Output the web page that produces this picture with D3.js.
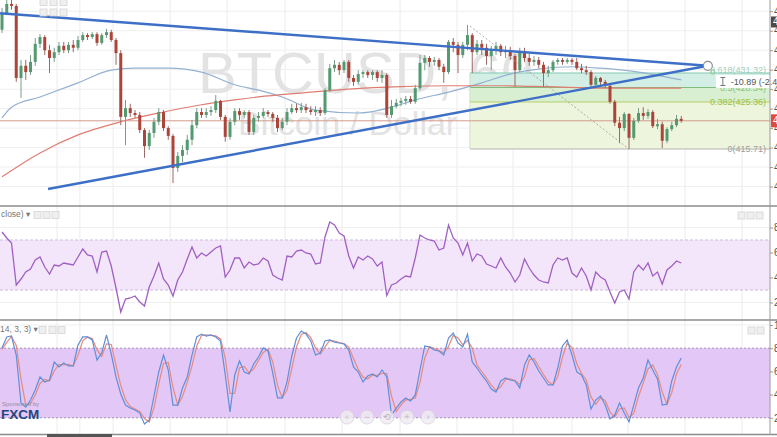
<!DOCTYPE html>
<html><head><meta charset="utf-8">
<script src="https://cdn.jsdelivr.net/npm/d3@7"></script>
<style>html,body{margin:0;padding:0;background:#fff;overflow:hidden}svg{display:block}</style>
</head><body><svg id="c" width="777" height="437"></svg>
<script>
// ---------- DATA ----------
const opens = [440.2,443.6,445.5,445.1,430.3,432.8,431.5,433.6,437.3,438.7,
 436.0,434.4,435.6,436.9,436.0,437.1,436.5,438.1,439.1,438.7,
 439.3,437.5,439.1,439.7,438.1,435.4,422.3,424.1,423.1,422.7,
 419.6,416.3,419.0,421.3,423.3,420.0,418.4,411.8,414.3,415.5,
 417.6,420.6,423.3,422.7,423.3,423.7,425.6,422.3,418.2,421.3,
 423.5,422.7,423.3,419.2,422.1,422.5,423.3,422.9,422.1,420.0,
 421.3,423.3,424.1,423.7,424.3,423.7,423.3,423.7,423.1,427.8,
 432.3,433.0,431.9,433.6,430.3,429.5,431.1,431.5,430.9,431.5,
 430.3,430.9,422.7,424.5,425.2,425.6,426.0,425.4,428.2,433.4,
 434.4,433.6,434.0,432.6,431.5,437.7,437.1,435.0,437.1,439.1,
 435.6,437.3,436.5,434.8,436.0,436.9,435.6,436.0,434.8,431.9,
 435.6,434.4,433.6,434.0,433.0,431.3,431.9,433.6,434.0,433.6,
 434.0,433.6,432.3,431.9,431.5,428.9,430.3,429.5,428.7,425.4,
 421.1,420.0,422.9,418.0,421.5,423.1,422.5,423.3,420.4,420.8,
 417.4,419.8,420.6,421.9];
const highs = [444.7,446.3,446.3,445.5,434.0,434.0,435.0,438.5,439.3,439.1,
 437.1,436.5,437.7,437.7,437.7,438.1,438.9,439.7,439.5,439.7,
 439.7,439.5,440.4,440.2,438.5,436.0,425.8,425.0,423.7,423.3,
 420.0,419.6,422.1,424.1,423.7,420.4,418.8,415.1,416.5,418.6,
 421.7,424.1,424.1,424.1,424.5,426.8,425.8,422.7,422.1,424.1,
 424.1,423.7,423.7,422.7,423.3,424.1,423.7,423.3,422.7,422.1,
 424.1,425.0,425.0,425.2,425.0,424.5,424.5,424.3,428.2,433.2,
 434.0,433.6,434.0,434.0,430.9,431.9,431.9,431.9,431.9,431.9,
 431.9,431.3,425.8,426.0,426.2,426.6,426.6,428.9,435.0,435.0,
 434.8,434.6,434.4,433.2,438.1,438.5,437.7,437.7,441.2,439.5,
 438.1,438.1,437.3,436.9,437.7,437.3,436.9,436.7,435.2,436.5,
 436.5,435.2,434.8,434.6,433.6,432.8,434.0,434.4,434.4,434.4,
 434.4,434.4,433.2,432.8,431.9,430.7,430.5,429.9,429.1,425.8,
 422.3,423.3,423.1,422.1,424.1,424.3,423.9,423.7,421.9,421.3,
 420.2,421.3,422.7,422.5];
const lows = [439.5,443.2,444.3,429.5,426.2,429.9,430.9,432.8,436.5,435.0,
 431.3,433.6,435.0,435.4,435.4,435.6,436.0,437.7,438.1,438.3,
 436.9,437.1,438.5,437.7,433.0,420.6,416.5,422.3,422.1,419.0,
 413.9,415.5,418.0,420.6,419.4,417.6,408.7,411.0,413.0,414.5,
 416.5,420.0,422.1,422.1,422.5,423.1,421.7,417.2,417.6,420.6,
 421.7,422.1,418.6,418.6,421.3,422.1,422.3,421.3,419.2,419.6,
 420.6,422.9,423.1,423.1,423.1,422.7,422.5,422.5,422.7,427.4,
 431.5,430.9,431.3,429.5,428.7,428.9,430.3,430.3,429.9,429.5,
 429.3,422.1,422.1,424.1,424.5,424.8,425.0,425.0,427.8,431.9,
 432.6,432.8,431.9,429.3,431.1,435.6,431.3,434.4,436.0,431.3,
 435.0,435.0,433.0,431.9,435.0,434.8,434.4,434.0,428.5,431.5,
 433.6,432.8,432.8,432.3,428.5,430.5,431.5,433.0,433.0,433.2,
 433.0,431.9,431.3,430.9,428.5,428.7,428.7,428.2,425.0,420.4,
 416.9,419.4,415.7,417.6,421.1,421.7,421.9,420.0,419.8,415.9,
 416.9,419.4,420.2,421.1];
const closes = [443.6,445.5,445.1,430.3,432.8,431.5,433.6,437.3,438.7,436.0,
 434.4,435.6,436.9,436.0,437.1,436.5,438.1,439.1,438.7,439.3,
 437.5,439.1,439.7,438.1,435.4,422.3,424.1,423.1,422.7,419.6,
 416.3,419.0,421.3,423.3,420.0,418.4,411.8,414.3,415.5,417.6,
 420.6,423.3,422.7,423.3,423.7,425.6,422.3,418.2,421.3,423.5,
 422.7,423.3,419.2,422.1,422.5,423.3,422.9,422.1,420.0,421.3,
 423.3,424.1,423.7,424.3,423.7,423.3,423.7,423.1,427.8,432.3,
 433.0,431.9,433.6,430.3,429.5,431.1,431.5,430.9,431.5,430.3,
 430.9,422.7,424.5,425.2,425.6,426.0,425.4,428.2,433.4,434.4,
 433.6,434.0,432.6,431.5,437.7,437.1,435.0,437.1,439.1,435.6,
 437.3,436.5,434.8,436.0,436.9,435.6,436.0,434.8,431.9,435.6,
 434.4,433.6,434.0,433.0,431.3,431.9,433.6,434.0,433.6,434.0,
 433.6,432.3,431.9,431.5,428.9,430.3,429.5,428.7,425.4,421.1,
 420.0,422.9,418.0,421.5,423.1,422.5,423.3,420.4,420.8,417.4,
 419.8,420.6,421.9,421.5];
const rsi = [76.4,71.6,67.6,34.0,38.8,44.4,46.8,54.0,56.4,48.4,
 42.8,50.0,49.2,51.6,50.8,50.0,56.4,62.8,58.0,57.2,
 44.4,60.4,61.2,49.2,31.6,12.4,22.8,23.6,25.2,20.4,
 17.2,32.4,41.2,51.6,38.8,34.0,25.2,38.0,44.4,54.8,
 64.4,55.6,59.6,57.2,60.4,63.6,65.2,40.4,46.0,55.6,
 55.6,47.6,52.4,50.0,50.8,55.6,53.2,42.0,39.6,38.0,
 57.2,56.4,61.2,62.0,59.6,58.8,50.8,51.6,72.4,84.4,
 82.0,75.6,73.2,57.2,47.6,56.4,54.0,57.2,54.8,49.2,
 52.4,25.6,34.0,35.6,38.8,41.2,40.4,55.6,74.0,71.6,
 70.0,69.2,62.0,63.6,82.0,71.6,67.6,58.0,67.6,53.2,
 58.8,57.2,50.8,49.2,47.6,55.6,48.4,43.6,36.4,42.0,
 54.8,47.6,42.0,38.0,36.4,35.6,50.0,55.6,54.0,55.6,
 43.6,40.4,47.6,41.2,30.0,44.4,40.4,38.0,28.4,19.6,
 28.4,30.0,22.8,44.4,50.0,46.0,51.6,41.2,44.4,34.8,
 46.0,49.2,53.2,51.6];
const stochK = [80.2,89.7,90.5,74.1,32.8,29.3,35.3,44.0,55.2,50.9,
 52.6,68.1,63.8,67.2,64.7,64.7,82.8,89.7,89.7,87.1,
 69.8,75.9,91.4,75.0,55.2,40.5,31.0,28.4,26.7,24.1,
 14.7,18.1,38.8,59.5,74.1,61.2,31.0,31.0,45.7,55.2,
 74.1,89.7,92.2,90.5,91.4,89.7,86.2,56.9,25.0,56.9,
 69.0,59.5,57.8,66.4,72.4,80.2,77.6,58.6,37.1,37.1,
 50.9,73.3,88.8,94.8,92.2,86.2,74.1,75.9,86.2,87.1,
 85.3,84.5,83.6,78.4,63.8,59.5,50.9,56.0,57.8,55.2,
 61.2,55.2,22.4,28.4,33.6,37.1,34.5,39.7,61.2,81.9,
 81.0,78.4,77.6,74.1,88.8,93.1,84.5,81.0,92.2,68.1,
 62.9,56.9,51.7,44.8,42.2,51.7,54.3,52.6,51.7,45.7,
 65.5,74.1,68.1,60.3,54.3,48.3,48.3,62.9,81.9,87.1,
 74.1,59.5,56.9,48.3,27.6,35.3,38.8,31.0,19.0,22.4,
 32.8,24.1,16.4,31.0,45.7,54.3,69.8,61.2,53.4,31.0,
 31.9,51.7,63.8,71.6];
const stochD = [79.0,85.0,90.1,82.3,53.5,31.1,32.3,39.7,49.6,53.1,
 51.8,60.4,66.0,65.5,66.0,64.7,73.8,86.3,89.7,88.4,
 78.5,72.9,83.7,83.2,65.1,47.9,35.8,29.7,27.6,25.4,
 19.4,16.4,28.5,49.2,66.8,67.7,46.1,31.0,38.4,50.5,
 64.7,81.9,91.0,91.4,91.0,90.6,88.0,71.6,41.0,41.0,
 63.0,64.3,58.7,62.1,69.4,76.3,78.9,68.1,47.9,37.1,
 44.0,62.1,81.1,91.8,93.5,89.2,80.2,75.0,81.1,86.7,
 86.2,84.9,84.1,81.0,71.1,61.7,55.2,53.5,56.9,56.5,
 58.2,58.2,38.8,25.4,31.0,35.4,35.8,37.1,50.5,71.6,
 81.5,79.7,78.0,75.9,81.5,91.0,88.8,82.8,86.6,80.2,
 65.5,59.9,54.3,48.3,43.5,47.0,53.0,53.5,52.2,48.7,
 55.6,69.8,71.1,64.2,57.3,51.3,48.3,55.6,72.4,84.5,
 80.6,66.8,58.2,52.6,38.0,31.5,37.1,34.9,25.0,20.7,
 27.6,28.5,20.3,23.7,38.4,50.0,62.1,65.5,57.3,42.2,
 31.5,41.8,57.8,66.0];
// moving averages, read at sample bars
const maBlueIdx = [0,2,8,16,23,28,35,42,49,54,59,66,75,82,87,94,101,107,113,120,126,134,143];
const maBlue = [422.1,424.3,426.4,429.3,431.9,432.3,432.3,431.5,428.9,427.8,426.4,423.7,423.1,424.3,425.8,427.4,429.3,431.1,432.1,432.6,432.3,431.5,429.9];
const maRedIdx = [0,8,16,25,33,42,49,54,63,73,84,94,105,115,126,143];
const maRed = [410.0,414.9,418.6,421.3,423.1,424.8,425.8,426.4,427.2,428.0,428.5,428.7,428.7,428.5,428.2,428.2];
// ticks & annotations
const priceTicks = [408,412,416,420,424,428,432,436,440,444];
const rsiTicks = [20,40,60,80];
const stochTicks = [20,40,60,80,100];
const timeGrid = [11.6,16.4,23.4,35.4,47.4,59.6,71.6,83.8,95.8,107.6,120,131.8,143.8,155.8];
const fibRatios = [0,0.382,0.5,0.618];
const fibPrices = [415.71,425.36,428.34,431.32];
const fibLabels = ["0(415.71)","0.382(425.36)","0.5(428.34)","0.618(431.32)"];
const fibStart = 98.5;
const fibDiag = [[98.5,440.97],[132,415.71]];
const trendUpper = [[-0.4,443.6],[148.6,432.8]];
const trendLower = [[9.7,407.5],[148.6,432.8]];
const lastPrice = 421.5;
const measureText = "-10.89 (-2.45%)";

// ---------- CHART ----------
const FF = "'Liberation Sans', Arial, 'DejaVu Sans', sans-serif";
const svg = d3.select('#c');
const AX = 770;
const x = d3.scaleLinear().domain([0,160]).range([2,762]);
const yP = d3.scaleLinear().domain([404.21,446.31]).range([205,0]);
const yR = d3.scaleLinear().domain([20,80]).range([302.5,227.5]);
const yS = d3.scaleLinear().domain([0,100]).range([441,325]);
const idx = d3.range(closes.length);

svg.append('rect').attr('width',777).attr('height',437).attr('fill','#fff');
const defs = svg.append('defs');
function clip(id,y0,y1){defs.append('clipPath').attr('id',id).append('rect').attr('x',0).attr('y',y0).attr('width',AX).attr('height',y1-y0);}
clip('cm',0,205.5); clip('cr',206.5,320); clip('cs',320.5,434);

// grid
const g0 = svg.append('g');
g0.append('g').selectAll('line').data(timeGrid).join('line')
  .attr('x1',d=>x(d)).attr('x2',d=>x(d)).attr('y1',0).attr('y2',434).attr('stroke','#ececec');
g0.append('g').selectAll('line').data(priceTicks).join('line')
  .attr('x1',0).attr('x2',AX).attr('y1',d=>yP(d)).attr('y2',d=>yP(d)).attr('stroke','#efefef');
g0.append('g').selectAll('line').data(rsiTicks).join('line')
  .attr('x1',0).attr('x2',AX).attr('y1',d=>yR(d)).attr('y2',d=>yR(d)).attr('stroke','#efefef');
g0.append('g').selectAll('line').data([40,60,100]).join('line')
  .attr('x1',0).attr('x2',AX).attr('y1',d=>yS(d)).attr('y2',d=>yS(d)).attr('stroke','#efefef');

// watermark
svg.append('text').attr('x',198).attr('y',93).attr('font-family',FF).attr('font-size',58)
  .attr('fill','#e3e3e3').text('BTCUSD, 60');
svg.append('text').attr('x',238).attr('y',135).attr('font-family',FF).attr('font-size',34)
  .attr('fill','#e3e3e3').text('Bitcoin / Dollar');

// main panel
const gm = svg.append('g').attr('clip-path','url(#cm)');
const fx0 = x(fibStart);
const fibFill = ['#eef5dd','#d9efd2','#d3eee4'];
const fibLine = ['#b4b4b4','#b3cf6a','#80bd7c','#83c8b2'];
for (let k=0;k<3;k++){
  gm.append('rect').attr('x',fx0).attr('width',AX-fx0)
    .attr('y',yP(fibPrices[k+1])).attr('height',yP(fibPrices[k])-yP(fibPrices[k+1]))
    .attr('fill',fibFill[k]);
}
gm.selectAll('line.fib').data(fibPrices).join('line').attr('class','fib')
  .attr('x1',fx0).attr('x2',AX).attr('y1',d=>yP(d)).attr('y2',d=>yP(d))
  .attr('stroke',(d,i)=>fibLine[i]).attr('stroke-width',1);
gm.append('line').attr('x1',fx0).attr('x2',fx0).attr('y1',yP(fibPrices[3])).attr('y2',yP(fibPrices[0]))
  .attr('stroke','#cfe3c9');

// moving averages
const maLine = d3.line().x(d=>x(d[0])).y(d=>yP(d[1])).curve(d3.curveMonotoneX);
gm.append('path').attr('d',maLine(d3.zip(maBlueIdx,maBlue))).attr('fill','none')
  .attr('stroke','#93b1d1').attr('stroke-width',1.2);
gm.append('path').attr('d',maLine(d3.zip(maRedIdx,maRed))).attr('fill','none')
  .attr('stroke','#df7d72').attr('stroke-width',1.2);
// last price line
gm.append('line').attr('x1',0).attr('x2',AX).attr('y1',yP(lastPrice)).attr('y2',yP(lastPrice))
  .attr('stroke','#d49a8c').attr('stroke-width',1);

// candles
const UP='#539a70', DN='#ad4439';
gm.append('g').selectAll('line').data(idx).join('line')
  .attr('x1',i=>x(i)).attr('x2',i=>x(i)).attr('y1',i=>yP(highs[i])).attr('y2',i=>yP(lows[i]))
  .attr('stroke',i=>closes[i]>=opens[i]?'#7a9c88':'#9a6a64').attr('stroke-width',1);
gm.append('g').selectAll('rect').data(idx).join('rect')
  .attr('x',i=>x(i)-1.5).attr('width',3)
  .attr('y',i=>yP(Math.max(opens[i],closes[i])))
  .attr('height',i=>Math.max(1,Math.abs(yP(opens[i])-yP(closes[i]))))
  .attr('fill',i=>closes[i]>=opens[i]?UP:DN);

// fib diagonal
const seg = d3.line().x(d=>x(d[0])).y(d=>yP(d[1]));
gm.append('path').attr('d',seg(fibDiag)).attr('stroke','#9a9a9a').attr('stroke-width',0.8)
  .attr('stroke-dasharray','2,2').attr('fill','none');
// trend lines
[trendUpper,trendLower].forEach(t=>{
  gm.append('path').attr('d',seg(t)).attr('stroke','#3d6fc6').attr('stroke-width',2.4).attr('fill','none');
});
gm.append('circle').attr('cx',x(trendUpper[1][0])).attr('cy',yP(trendUpper[1][1])).attr('r',4.5)
  .attr('fill','#fff').attr('stroke','#8a8a8a').attr('stroke-width',1.2);
gm.append('circle').attr('cx',x(trendUpper[1][0])+5).attr('cy',yP(fibPrices[3])-1).attr('r',2)
  .attr('fill','#fff').attr('stroke','#6cbf7a').attr('stroke-width',1);

// fib labels
const fibTxt = ['#a0a0a0','#9cbf48','#86c07a','#9fd0c0'];
const fibDy = [3,3,3,0];
svg.append('g').selectAll('text').data(fibPrices).join('text')
  .attr('x',766).attr('y',(d,i)=>yP(d)+fibDy[i]).attr('text-anchor','end')
  .attr('font-family',FF).attr('font-size',9).attr('fill',(d,i)=>fibTxt[i])
  .text((d,i)=>fibLabels[i]);

// measure label
const mx = x(trendUpper[1][0])+8, my = yP(fibPrices[3])+2;
svg.append('rect').attr('x',mx).attr('y',my).attr('width',777-mx).attr('height',13).attr('fill','#fff').attr('opacity',0.96);
const ib = svg.append('g').attr('stroke','#777').attr('stroke-width',1);
ib.append('line').attr('x1',mx+7).attr('x2',mx+7).attr('y1',my+2.5).attr('y2',my+10.5);
ib.append('line').attr('x1',mx+4.5).attr('x2',mx+9.5).attr('y1',my+2.5).attr('y2',my+2.5);
ib.append('line').attr('x1',mx+4.5).attr('x2',mx+9.5).attr('y1',my+10.5).attr('y2',my+10.5);
svg.append('text').attr('x',mx+15).attr('y',my+10).attr('font-family',FF).attr('font-size',9)
  .attr('fill','#555').text(measureText);

// RSI panel
const gr = svg.append('g').attr('clip-path','url(#cr)');
gr.append('rect').attr('x',0).attr('width',AX).attr('y',yR(70)).attr('height',yR(30)-yR(70)).attr('fill','#f3e6fb');
gr.selectAll('line').data([70,30]).join('line').attr('x1',0).attr('x2',AX)
  .attr('y1',d=>yR(d)).attr('y2',d=>yR(d)).attr('stroke','#cdb9da').attr('stroke-dasharray','3,2');
gr.append('path').attr('d',d3.line().x(i=>x(i)).y(i=>yR(rsi[i]))(idx))
  .attr('fill','none').attr('stroke','#a060c2').attr('stroke-width',1.3);

// Stoch panel
const gs = svg.append('g').attr('clip-path','url(#cs)');
gs.append('rect').attr('x',0).attr('width',AX).attr('y',yS(80)).attr('height',yS(20)-yS(80)).attr('fill','#e3c7f6');
gs.selectAll('line').data([80,20]).join('line').attr('x1',0).attr('x2',AX)
  .attr('y1',d=>yS(d)).attr('y2',d=>yS(d)).attr('stroke','#a08fae').attr('stroke-dasharray','2,2');
gs.append('path').attr('d',d3.line().x(i=>x(i)).y(i=>yS(stochD[i]))(idx))
  .attr('fill','none').attr('stroke','#e88a7c').attr('stroke-width',1.2);
gs.append('path').attr('d',d3.line().x(i=>x(i)).y(i=>yS(stochK[i]))(idx))
  .attr('fill','none').attr('stroke','#5f8fd8').attr('stroke-width',1.2);

// separators & axis line
svg.selectAll('line.sep').data([206,320,434.5]).join('line').attr('class','sep')
  .attr('x1',0).attr('x2',777).attr('y1',d=>d).attr('y2',d=>d).attr('stroke','#8c8c8c').attr('stroke-width',1.4);
svg.append('line').attr('x1',AX).attr('x2',AX).attr('y1',0).attr('y2',435).attr('stroke','#9a9a9a');

function axis(scale, ticks, fmt){
  const g = svg.append('g').attr('transform',`translate(${AX},0)`)
    .call(d3.axisRight(scale).tickValues(ticks).tickSize(3).tickPadding(1).tickFormat(fmt));
  g.select('.domain').remove();
  g.selectAll('line').attr('stroke','#999');
  g.selectAll('text').attr('fill','#555').attr('font-size',10).attr('font-family',FF);
}
axis(yP, priceTicks, d3.format('.2f'));
axis(yR, rsiTicks, d3.format('d'));
axis(yS, stochTicks, d3.format('d'));

// price labels on axis
svg.append('rect').attr('x',771).attr('y',yP(lastPrice)-6.5).attr('width',8).attr('height',13).attr('fill','#e2483b');
svg.append('text').attr('x',773).attr('y',yP(lastPrice)+3.5).attr('font-family',FF).attr('font-size',10)
  .attr('fill','#fff').text(d3.format('.2f')(lastPrice));
svg.append('rect').attr('x',771).attr('y',yP(441.8)-5.5).attr('width',8).attr('height',11).attr('fill','#4a4a4a');
svg.append('text').attr('x',773).attr('y',yP(441.8)+3.5).attr('font-family',FF).attr('font-size',10)
  .attr('fill','#fff').text('441.80');

// legends
function boxes(xs,y){xs.forEach(v=>svg.append('rect').attr('x',v).attr('y',y).attr('width',7).attr('height',7)
  .attr('fill','#efefef').attr('stroke','#d4d4d4').attr('stroke-width',0.8));}
svg.append('text').attr('x',1).attr('y',217).attr('font-family',FF).attr('font-size',8.5).attr('fill','#777').text('close) ▾');
boxes([34,43,52],211.5);
svg.append('text').attr('x',0).attr('y',332).attr('font-family',FF).attr('font-size',8.5).attr('fill','#777').text('14, 3, 3) ▾');
boxes([39,49,58],326.5);
boxes([738,747,756],212);
boxes([748,757],327);
boxes([40,50,60],-1.5);
boxes([40,50,60],9);

// sponsor
svg.append('text').attr('x',2).attr('y',406).attr('font-family',FF).attr('font-size',6).attr('fill','#8f8fa6').text('Sponsored by');
svg.append('text').attr('x',1).attr('y',419).attr('font-family',FF).attr('font-size',13.5).attr('font-weight','bold')
  .attr('fill','#24457c').text('FXCM');

// nav buttons
const nav = [[347,'‹'],[367,'−'],[387,'⟲'],[407,'+'],[428,'›']];
nav.forEach(([cx,t])=>{
  svg.append('circle').attr('cx',cx).attr('cy',417).attr('r',7).attr('fill','#f1edf3').attr('stroke','#d8d2dc').attr('opacity',0.8);
  svg.append('text').attr('x',cx).attr('y',420).attr('text-anchor','middle').attr('font-family',FF)
    .attr('font-size',9).attr('fill','#b9b3bd').text(t);
});
svg.append('rect').attr('x',47).attr('y',434).attr('width',65).attr('height',3).attr('fill','#555');
</script>
</body></html>
